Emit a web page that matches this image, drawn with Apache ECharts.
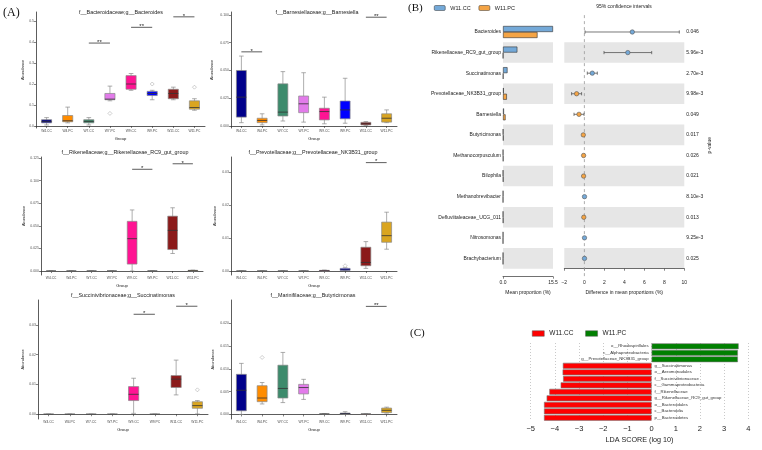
<!DOCTYPE html>
<html><head><meta charset="utf-8">
<script src="https://cdn.jsdelivr.net/npm/echarts@6/dist/echarts.min.js"></script>
<style>html,body{margin:0;padding:0;background:#fff}#c{width:762px;height:450px}</style>
</head><body><div id="c"></div>
<script>
// ---------- Panel A data ----------
const groups = ['W4.CC','W4.PC','W7.CC','W7.PC','W9.CC','W9.PC','W11.CC','W11.PC'];
const groupColors = ['#00008B','#FF8C00','#3D8B6C','#E27BEA','#FF1493','#0000FF','#8B1A1A','#DAA520'];

const bacteroidesBox = [
  [0.005,0.015,0.022,0.030,0.040],[0.015,0.020,0.025,0.050,0.090],
  [0.005,0.015,0.022,0.030,0.040],[0.120,0.125,0.128,0.155,0.190],
  [0.170,0.175,0.200,0.240,0.250],[0.125,0.145,0.155,0.165,0.170],
  [0.125,0.130,0.155,0.175,0.185],[0.075,0.080,0.088,0.120,0.130]];
const bacteroidesOut = [[3,0.06],[5,0.20],[7,0.185]];
const bacteroidesSig = [[2,3,0.395],[4,5,0.47],[6,7,0.52]];
const bacteroidesStars = ['**','**','*'];
const bacteroidesTicks = ['0.0','0.1','0.2','0.3','0.4','0.5'];

const barnesiellaBox = [
  [0.003,0.008,0.026,0.050,0.063],[0.001,0.003,0.005,0.007,0.011],
  [0.0045,0.009,0.0125,0.038,0.049],[0.0035,0.012,0.020,0.027,0.048],
  [0.002,0.0055,0.013,0.016,0.026],[0.0025,0.0065,0.0145,0.0225,0.043],
  [0.0005,0.001,0.002,0.0033,0.004],[0.003,0.0035,0.007,0.011,0.0145]];
const barnesiellaOut = [];
const barnesiellaSig = [[0,1,0.0668],[6,7,0.098]];
const barnesiellaStars = ['*','**'];
const barnesiellaTicks = ['0.000','0.025','0.050','0.075','0.100'];

const rikenellaBox = [
  [0,0,0,0,0],[0,0,0,0,0],[0,0,0,0,0],[0,0,0,0,0],
  [0,0.0077,0.0358,0.055,0.0676],[0,0,0,0,0],
  [0.0194,0.0238,0.045,0.0607,0.070],[0,0,0.0003,0.0008,0.001]];
const rikenellaOut = [];
const rikenellaSig = [[4,5,0.1126],[6,7,0.1187]];
const rikenellaStars = ['*','*'];
const rikenellaTicks = ['0.000','0.025','0.050','0.075','0.100','0.125'];

const prevotellaBox = [
  [0,0,0,0,0],[0,0,0,0,0],[0,0,0,0,0],[0,0,0,0,0],[0,0,0.0001,0.0002,0.0003],
  [0.0001,0.0002,0.0004,0.0008,0.001],
  [0.0008,0.0016,0.0026,0.0072,0.0089],[0.0066,0.0087,0.0107,0.0148,0.0178]];
const prevotellaOut = [[5,0.0016]];
const prevotellaSig = [[6,7,0.0328]];
const prevotellaStars = ['*'];
const prevotellaTicks = ['0.00','0.01','0.02','0.03'];

const succinatimonasBox = [
  [0,0,0,0,0],[0,0,0,0,0],[0,0,0,0,0],[0,0,0,0,0],
  [0.0003,0.0046,0.0067,0.0093,0.0121],[0,0,0,0,0],
  [0.0065,0.009,0.0118,0.013,0.0182],[0.0001,0.002,0.0029,0.0042,0.0046]];
const succinatimonasOut = [[7,0.0082]];
const succinatimonasSig = [[4,5,0.0336],[6,7,0.0363]];
const succinatimonasStars = ['*','*'];
const succinatimonasTicks = ['0.00','0.01','0.02','0.03'];

const butyricimonasBox = [
  [0,0.0008,0.0053,0.0088,0.0112],[0.0023,0.0028,0.0036,0.0063,0.007],
  [0.0026,0.0036,0.0057,0.0108,0.0136],[0.0033,0.0045,0.0059,0.0066,0.0077],
  [0,0.0001,0.0001,0.0001,0.0002],[0.0001,0.0001,0.0002,0.0003,0.0006],
  [0,0,0.0001,0.0001,0.0001],[0.0003,0.0004,0.0009,0.0014,0.0016]];
const butyricimonasOut = [[1,0.0125]];
const butyricimonasSig = [[6,7,0.0237]];
const butyricimonasStars = ['**'];
const butyricimonasTicks = ['0.000','0.005','0.010','0.015','0.020'];

const panelTitles = ['f__Bacteroidaceae;g__Bacteroides','f__Barnesiellaceae;g__Barnesiella',
  'f__Rikenellaceae;g__Rikenellaceae_RC9_gut_group','f__Prevotellaceae;g__Prevotellaceae_NK3B31_group',
  'f__Succinivibrionaceae;g__Succinatimonas','f__Marinifilaceae;g__Butyricimonas'];

// ---------- Panel B data ----------
const bTaxa = ['Bacteroides','Rikenellaceae_RC9_gut_group','Succinatimonas','Prevotellaceae_NK3B31_group',
  'Barnesiella','Butyricimonas','Methanocorpusculum','Bilophila','Methanobrevibacter',
  'Defluviitaleaceae_UCG_011','Nitrosomonas','Brachybacterium'];
const meanCC = [15.5,4.45,1.4,0.25,0.3,0.06,0.03,0.03,0.04,0.03,0.03,0.03];
const meanPC = [10.7,0.05,0.1,1.2,0.8,0.16,0.1,0.1,0.02,0.08,0.01,0.01];
const diffMean = [4.8,4.35,0.8,-0.77,-0.53,-0.1,-0.07,-0.07,0.02,-0.05,0.02,0.02];
const ciLow  = [0.07,1.97,0.3,-1.27,-1.03,-0.16,-0.12,-0.12,0.0,-0.09,0.0,0.0];
const ciHigh = [9.5,6.74,1.3,-0.27,-0.03,-0.04,-0.02,-0.02,0.04,-0.01,0.04,0.04];
const pValues = ['0.046','5.96e-3','2.70e-3','9.98e-3','0.049','0.017','0.026','0.021','8.10e-3','0.013','9.25e-3','0.025'];

// ---------- Panel C data ----------
const ldaTaxa = ['o__Rhodospirillales','c__Alphaproteobacteria','g__Prevotellaceae_NK3B31_group',
  'g__Succinatimonas','o__Aeromonadales','f__Succinivibrionaceae','c__Gammaproteobacteria',
  'f__Rikenellaceae','g__Rikenellaceae_RC9_gut_group','o__Bacteroidales','c__Bacteroidia','p__Bacteroidetes'];
const ldaScores = [3.6,3.57,3.57,-3.67,-3.68,-3.66,-3.76,-4.23,-4.34,-4.45,-4.45,-4.45];

// ---------- build ----------
const panelData = [
  [bacteroidesBox,bacteroidesOut,bacteroidesSig,bacteroidesStars,bacteroidesTicks],
  [barnesiellaBox,barnesiellaOut,barnesiellaSig,barnesiellaStars,barnesiellaTicks],
  [rikenellaBox,rikenellaOut,rikenellaSig,rikenellaStars,rikenellaTicks],
  [prevotellaBox,prevotellaOut,prevotellaSig,prevotellaStars,prevotellaTicks],
  [succinatimonasBox,succinatimonasOut,succinatimonasSig,succinatimonasStars,succinatimonasTicks],
  [butyricimonasBox,butyricimonasOut,butyricimonasSig,butyricimonasStars,butyricimonasTicks]];
const layoutA = [
  {left:36, top:12, width:169, height:116, min:-0.0095, max:0.543, ng:10, tx:121, ty:13},
  {left:231,top:12, width:166, height:116, min:-0.0018, max:0.1027, ng:17, tx:317, ty:13},
  {left:41, top:157,width:162, height:118, min:-0.0044, max:0.1262, ng:15, tx:125, ty:153},
  {left:231,top:157,width:166, height:118, min:-0.0012, max:0.0345, ng:14, tx:313, ty:153},
  {left:38, top:300,width:170, height:119, min:-0.0016, max:0.0384, ng:10, tx:123, ty:296},
  {left:231,top:300,width:166, height:119, min:-0.001, max:0.0251, ng:16, tx:313, ty:296}];

const FONT = 'Liberation Sans';
const grid = [], xAxis = [], yAxis = [], series = [], graphic = [];

function boxRender(params, api){
  const i = api.value(0);
  const mn = api.coord([i, api.value(1)]), q1 = api.coord([i, api.value(2)]),
        md = api.coord([i, api.value(3)]), q3 = api.coord([i, api.value(4)]),
        mx = api.coord([i, api.value(5)]);
  const band = api.size([1,0])[0];
  const bw = band*0.48, cw = band*0.22, x = mn[0], g = '#8a8a8a';
  return {type:'group', children:[
    {type:'line', shape:{x1:x,y1:mx[1],x2:x,y2:mn[1]}, style:{stroke:g,lineWidth:0.7}},
    {type:'line', shape:{x1:x-cw/2,y1:mx[1],x2:x+cw/2,y2:mx[1]}, style:{stroke:g,lineWidth:0.7}},
    {type:'line', shape:{x1:x-cw/2,y1:mn[1],x2:x+cw/2,y2:mn[1]}, style:{stroke:g,lineWidth:0.7}},
    {type:'rect', shape:{x:x-bw/2,y:q3[1],width:bw,height:q1[1]-q3[1]}, style:{fill:groupColors[i],stroke:g,lineWidth:0.7}},
    {type:'line', shape:{x1:x-bw/2,y1:md[1],x2:x+bw/2,y2:md[1]}, style:{stroke:'#333',lineWidth:0.8}}
  ]};
}

panelData.forEach((pd, k) => {
  const L = layoutA[k];
  const [box, out, sig, stars, ticks] = pd;
  const tickVals = ticks.map(Number);
  const dec = (ticks[0].split('.')[1]||'').length;
  grid.push({left:L.left, top:L.top, width:L.width, height:L.height});
  xAxis.push({gridIndex:k, type:'category', data:groups,
    axisLine:{lineStyle:{color:'#333',width:0.8}},
    axisTick:{show:true,length:2,alignWithLabel:true,lineStyle:{color:'#333',width:0.6}},
    axisLabel:{fontSize:3.3,color:'#444',margin:2,interval:0,fontFamily:FONT},
    name:'Group', nameLocation:'middle', nameGap:9, nameTextStyle:{fontSize:4.2,color:'#222',fontFamily:FONT}});
  yAxis.push({gridIndex:k, type:'value', min:L.min, max:L.max, splitLine:{show:false},
    axisLine:{show:true,lineStyle:{color:'#333',width:0.8}},
    axisTick:{show:true,length:2,customValues:tickVals,lineStyle:{color:'#333',width:0.6}},
    axisLabel:{customValues:tickVals,fontSize:3.5,color:'#555',margin:2,fontFamily:FONT,formatter:v=>v.toFixed(dec)},
    name:'Abundance', nameLocation:'middle', nameRotate:90, nameGap:L.ng, nameTextStyle:{fontSize:4,color:'#222',fontFamily:FONT}});
  series.push({type:'custom', xAxisIndex:k, yAxisIndex:k, renderItem:boxRender,
    encode:{x:0,y:[1,2,3,4,5]}, data:box.map((b,i)=>[i].concat(b)), silent:true, clip:false});
  if (out.length) series.push({type:'scatter', xAxisIndex:k, yAxisIndex:k, data:out, symbol:'diamond', symbolSize:4,
    itemStyle:{color:'#ffffff',borderColor:'#999',borderWidth:0.6}, silent:true});
  series.push({type:'custom', xAxisIndex:k, yAxisIndex:k, encode:{x:0,y:2}, data:sig, silent:true, clip:false,
    renderItem:(params, api)=>{
      const a = api.coord([api.value(0), api.value(2)]), b = api.coord([api.value(1), api.value(2)]);
      return {type:'group', children:[
        {type:'line', shape:{x1:a[0],y1:a[1],x2:b[0],y2:b[1]}, style:{stroke:'#333',lineWidth:0.8}},
        {type:'text', x:(a[0]+b[0])/2, y:a[1]-0.8, style:{text:stars[params.dataIndex],fontSize:6,fill:'#222',align:'center',verticalAlign:'middle',fontFamily:FONT}}
      ]};
    }});
  graphic.push({type:'text', x:L.tx, y:L.ty, style:{text:panelTitles[k], fontSize:5.4, fill:'#222', align:'center', verticalAlign:'middle', fontFamily:FONT}});
});

// Panel B
const BLUE = '#74a9d8', ORANGE = '#f4a445';
grid.push({left:503, top:21.7, width:50, height:247});
grid.push({left:564.3, top:21.7, width:120, height:247});
xAxis.push({gridIndex:6, type:'value', min:0, max:15.5, offset:8, splitLine:{show:false},
  axisLine:{show:true,lineStyle:{color:'#333',width:0.7}},
  axisTick:{show:true,length:2,customValues:[0,15.5],lineStyle:{color:'#333',width:0.6}},
  axisLabel:{customValues:[0,15.5],fontSize:5,color:'#222',margin:3,formatter:v=>v===0?'0.0':String(v)},
  name:'Mean proportion (%)', nameLocation:'middle', nameGap:13, nameTextStyle:{fontSize:5,color:'#222'}});
xAxis.push({gridIndex:7, type:'value', min:-2, max:10, interval:2, offset:8, splitLine:{show:false},
  axisLine:{show:true,lineStyle:{color:'#333',width:0.7}},
  axisTick:{show:true,length:2,lineStyle:{color:'#333',width:0.6}},
  axisLabel:{fontSize:5,color:'#222',margin:3,formatter:v=>String(v).replace('-','−')},
  name:'Difference in mean proportions (%)', nameLocation:'middle', nameGap:13, nameTextStyle:{fontSize:5,color:'#222'}});
const stripe = {show:true, areaStyle:{color:['rgba(0,0,0,0)','#e6e6e6']}};
yAxis.push({gridIndex:6, type:'category', data:bTaxa, inverse:true, splitArea:stripe,
  axisLine:{show:false}, axisTick:{show:false}, axisLabel:{fontSize:5,color:'#222',margin:2}});
yAxis.push({gridIndex:7, type:'category', data:bTaxa, inverse:true, splitArea:stripe,
  axisLine:{show:false}, axisTick:{show:false}, axisLabel:{show:false}});
yAxis.push({gridIndex:7, type:'category', data:pValues, inverse:true, position:'right',
  axisLine:{show:false}, axisTick:{show:false}, axisLabel:{fontSize:5,color:'#222',margin:2},
  name:'p-value', nameLocation:'middle', nameRotate:90, nameGap:23, nameTextStyle:{fontSize:5,color:'#222'}});
// hidden helper scale for the zero reference line
yAxis.push({gridIndex:7, type:'value', min:0, max:1, show:false});
series.push({type:'bar', name:'W11.CC', xAxisIndex:6, yAxisIndex:6, data:meanCC, barWidth:6, barGap:'0%',
  itemStyle:{color:BLUE,borderColor:'#333',borderWidth:0.6}, silent:true});
series.push({type:'bar', name:'W11.PC', xAxisIndex:6, yAxisIndex:6, data:meanPC, barWidth:6, barGap:'0%',
  itemStyle:{color:ORANGE,borderColor:'#333',borderWidth:0.6}, silent:true});
series.push({type:'line', xAxisIndex:7, yAxisIndex:9, data:[[0,-0.03],[0,1.039]], symbol:'none', silent:true, clip:false,
  lineStyle:{type:[3,3],color:'#999',width:0.8}, z:1});
series.push({type:'custom', name:'ci', xAxisIndex:7, yAxisIndex:7, encode:{x:1,y:3}, silent:true, clip:false,
  data:bTaxa.map((t,i)=>[ciLow[i],diffMean[i],ciHigh[i],i]), z:3,
  renderItem:(params, api)=>{
    const r = api.value(3);
    const lo = api.coord([api.value(0), r]), m = api.coord([api.value(1), r]), hi = api.coord([api.value(2), r]);
    const c = api.value(1) >= 0 ? BLUE : ORANGE, s = '#555';
    return {type:'group', children:[
      {type:'line', shape:{x1:lo[0],y1:lo[1],x2:hi[0],y2:hi[1]}, style:{stroke:s,lineWidth:0.8}},
      {type:'line', shape:{x1:lo[0],y1:lo[1]-1.6,x2:lo[0],y2:lo[1]+1.6}, style:{stroke:s,lineWidth:0.8}},
      {type:'line', shape:{x1:hi[0],y1:hi[1]-1.6,x2:hi[0],y2:hi[1]+1.6}, style:{stroke:s,lineWidth:0.8}},
      {type:'circle', shape:{cx:m[0],cy:m[1],r:2.2}, style:{fill:c,stroke:s,lineWidth:0.6}}
    ]};
  }});

// Panel C
grid.push({left:530.7, top:343, width:217.6, height:78});
xAxis.push({gridIndex:8, type:'value', min:-5, max:4, interval:1,
  axisLine:{show:false}, axisTick:{show:false},
  splitLine:{show:true,lineStyle:{type:[1,2],color:'#bbb',width:0.8}},
  axisLabel:{fontSize:7.5,color:'#222',margin:4,formatter:v=>String(v).replace('-','−')},
  name:'LDA SCORE (log 10)', nameLocation:'middle', nameGap:16, nameTextStyle:{fontSize:7.2,color:'#222'}});
yAxis.push({gridIndex:8, type:'category', data:ldaTaxa, inverse:true,
  axisLine:{show:false}, axisTick:{show:false}, axisLabel:{show:false}});
series.push({type:'bar', name:'W11.CC', xAxisIndex:8, yAxisIndex:10, barGap:'-100%', barCategoryGap:'10%',
  data:ldaScores.map(v=>v<0?v:'-'), silent:true,
  itemStyle:{color:'#ff0000',borderColor:'#777',borderWidth:0.6},
  label:{show:true,position:'right',distance:3,fontSize:4.3,color:'#333',formatter:p=>ldaTaxa[p.dataIndex]}});
series.push({type:'bar', name:'W11.PC', xAxisIndex:8, yAxisIndex:10, barGap:'-100%', barCategoryGap:'10%',
  data:ldaScores.map(v=>v>0?v:'-'), silent:true,
  itemStyle:{color:'#008000',borderColor:'#777',borderWidth:0.6},
  label:{show:true,position:'left',distance:3,fontSize:4.3,color:'#333',formatter:p=>ldaTaxa[p.dataIndex]}});

graphic.push({type:'text', x:3, y:13, style:{text:'(A)', fontSize:12, fill:'#111', verticalAlign:'middle', fontFamily:'Liberation Serif'}});
graphic.push({type:'text', x:408, y:8, style:{text:'(B)', fontSize:11, fill:'#111', verticalAlign:'middle', fontFamily:'Liberation Serif'}});
graphic.push({type:'text', x:410, y:333, style:{text:'(C)', fontSize:11, fill:'#111', verticalAlign:'middle', fontFamily:'Liberation Serif'}});
graphic.push({type:'text', x:624, y:7, style:{text:'95% confidence intervals', fontSize:5, fill:'#222', align:'center', verticalAlign:'middle', fontFamily:FONT}});

const option = {
  animation:false,
  textStyle:{fontFamily:FONT},
  grid, xAxis, yAxis, series, graphic,
  legend:[
    {left:434, top:5, selectedMode:false, itemWidth:11, itemHeight:5, itemGap:8, padding:0,
     textStyle:{fontSize:5.5,color:'#222'},
     data:[{name:'W11.CC',itemStyle:{color:BLUE,borderColor:'#333',borderWidth:0.5}},
           {name:'W11.PC',itemStyle:{color:ORANGE,borderColor:'#333',borderWidth:0.5}}]},
    {left:532, top:330, selectedMode:false, itemWidth:12, itemHeight:5.5, itemGap:12, padding:0, icon:'rect',
     textStyle:{fontSize:6.5,color:'#222'},
     data:[{name:'W11.CC',itemStyle:{color:'#ff0000',borderColor:'#555',borderWidth:0.5}},
           {name:'W11.PC',itemStyle:{color:'#008000',borderColor:'#555',borderWidth:0.5}}]}
  ]
};
const chart = echarts.init(document.getElementById('c'));
chart.setOption(option);
</script></body></html>
